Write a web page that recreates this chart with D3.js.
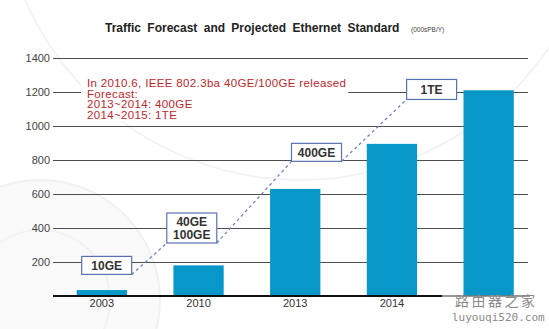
<!DOCTYPE html>
<html><head><meta charset="utf-8">
<script src="https://cdn.jsdelivr.net/npm/d3@7"></script>
<style>html,body{margin:0;padding:0;background:#fff;}svg{display:block;}</style>
</head><body>
<script>
const categories = ["2003", "2010", "2013", "2014", "2015"];
const traffic = [35, 180, 630, 895, 1210];
const yTicks = [200, 400, 600, 800, 1000, 1200, 1400];
const boxLabels = [["10GE"], ["40GE", "100GE"], ["400GE"], ["1TE"]];
const boxIndexPos = [0.05, 0.93, 2.22, 3.41];
const boxLevel = [180, 400, 845, 1215];
const noteLines = ["In 2010.6, IEEE 802.3ba 40GE/100GE released", "Forecast:", "2013~2014: 400GE", "2014~2015: 1TE"];
const titleText = "Traffic Forecast and Projected Ethernet Standard";
const unitText = "(000sPB/Y)";
const watermark = ["路由器之家", "luyouqi520.com"];

const W = 549, H = 329;
const svg = d3.select("body").append("svg").attr("width", W).attr("height", H);

// faint background arcs
const bg = svg.append("g").attr("fill", "none");
bg.append("circle").attr("cx", 40).attr("cy", 300).attr("r", 120).attr("fill", "#fafafa");
bg.append("circle").attr("cx", 40).attr("cy", 300).attr("r", 120).attr("stroke", "#f1f1f1").attr("stroke-width", 2);
bg.append("circle").attr("cx", 40).attr("cy", 300).attr("r", 70).attr("stroke", "#f3f3f3").attr("stroke-width", 2);
bg.append("circle").attr("cx", 300).attr("cy", -120).attr("r", 300).attr("stroke", "#f3f3f3").attr("stroke-width", 2);

const x = d3.scaleBand().domain(categories).range([53.5, 537]).paddingInner(0.48).paddingOuter(0.24);
const y = d3.scaleLinear().domain([0, 1400]).range([296, 58]);
const xIdx = d3.scaleLinear().domain([0, 1]).range([x(categories[0]) + x.bandwidth() / 2, x(categories[1]) + x.bandwidth() / 2]);

const gridX0 = 53, gridX1 = 528;

// title
svg.append("text").attr("x", 105).attr("y", 32)
  .attr("font-family", "Liberation Sans, Arial, sans-serif").attr("font-weight", "bold")
  .attr("font-size", 12).attr("word-spacing", 3).attr("fill", "#222").text(titleText);
svg.append("text").attr("x", 411).attr("y", 32)
  .attr("font-family", "Liberation Sans, Arial, sans-serif").attr("font-size", 6.5)
  .attr("fill", "#444").text(unitText);

// gridlines
const yAxis = d3.axisLeft(y).tickValues(yTicks).tickFormat(d3.format("d"))
  .tickSize(-(gridX1 - gridX0)).tickPadding(3);
const ga = svg.append("g").attr("transform", `translate(${gridX0},0)`).call(yAxis);
ga.select(".domain").remove();
ga.selectAll(".tick line").attr("stroke", "#4d4d4d").attr("stroke-width", 1);
ga.selectAll(".tick text").attr("font-family", "Liberation Sans, Arial, sans-serif")
  .attr("font-size", 11).attr("fill", "#444").attr("x", -3);

// annotation text with white background
const note = svg.append("g");
const noteBg = note.append("rect").attr("fill", "#fff");
const noteText = note.append("text").attr("font-family", "Liberation Sans, Arial, sans-serif")
  .attr("font-size", 11.5).attr("letter-spacing", 0.35).attr("fill", "#b8282e");
noteLines.forEach((t, i) => noteText.append("tspan").attr("x", 87).attr("y", 87 + i * 10.7).text(t));
const nb = noteText.node().getBBox();
noteBg.attr("x", nb.x - 6).attr("y", nb.y - 2).attr("width", nb.width + 8).attr("height", nb.height + 2);

// bars
svg.append("g").selectAll("rect").data(traffic).join("rect")
  .attr("x", (d, i) => x(categories[i]))
  .attr("width", x.bandwidth())
  .attr("y", d => y(d))
  .attr("height", d => y(0) - y(d))
  .attr("fill", "#0797c9");

// baseline
svg.append("line").attr("x1", gridX0).attr("x2", 442).attr("y1", y(0)).attr("y2", y(0))
  .attr("stroke", "#111").attr("stroke-width", 2);
svg.append("line").attr("x1", 442).attr("x2", 530).attr("y1", y(0)).attr("y2", y(0))
  .attr("stroke", "#777").attr("stroke-width", 1.5);

// boxes
const boxW = 50;
const boxes = boxLabels.map((lines, i) => {
  const h = lines.length > 1 ? 30 : (i === 3 ? 20 : 18);
  const cx = xIdx(boxIndexPos[i]), cy = y(boxLevel[i]);
  return {lines, cx, cy, h, x0: cx - boxW / 2, x1: cx + boxW / 2, y0: cy - h / 2, y1: cy + h / 2};
});

// dashed connector
const pts = [];
for (let i = 0; i < boxes.length - 1; i++) {
  pts.push([[boxes[i].x1, boxes[i].y1], [boxes[i + 1].x0, boxes[i + 1].y1]]);
}
svg.append("g").selectAll("line").data(pts).join("line")
  .attr("x1", d => d[0][0]).attr("y1", d => d[0][1])
  .attr("x2", d => d[1][0]).attr("y2", d => d[1][1])
  .attr("stroke", "#6f86b8").attr("stroke-width", 1.3).attr("stroke-dasharray", "3,3");

const bg2 = svg.append("g").selectAll("g").data(boxes).join("g");
bg2.append("rect").attr("x", d => d.x0).attr("y", d => d.y0).attr("width", boxW).attr("height", d => d.h)
  .attr("fill", "#fff").attr("stroke", "#5b72b2").attr("stroke-width", 1.2);
bg2.each(function (d) {
  const t = d3.select(this).append("text").attr("text-anchor", "middle")
    .attr("font-family", "Liberation Sans, Arial, sans-serif").attr("font-weight", "bold")
    .attr("font-size", 12).attr("fill", "#333");
  const n = d.lines.length;
  d.lines.forEach((s, k) => t.append("tspan").attr("x", d.cx)
    .attr("y", d.cy + 4.5 + (k - (n - 1) / 2) * 13).text(s));
});

// x labels (the last one is covered by the watermark in the reference)
svg.append("g").selectAll("text").data(categories.slice(0, 4)).join("text")
  .attr("x", d => x(d) + x.bandwidth() / 2).attr("y", 307).attr("text-anchor", "middle")
  .attr("font-family", "Liberation Sans, Arial, sans-serif").attr("font-size", 11)
  .attr("fill", "#333").text(d => d);

// watermark
svg.append("text").attr("x", 455).attr("y", 306).attr("font-family", "Noto Sans CJK SC, sans-serif")
  .attr("font-size", 14).attr("fill", "#8a8a8a").attr("textLength", 80).text(watermark[0]);
svg.append("text").attr("x", 452).attr("y", 321).attr("font-family", "DejaVu Sans Mono, monospace")
  .attr("font-size", 11).attr("fill", "#8a8a8a").text(watermark[1]);
</script>
</body></html>
